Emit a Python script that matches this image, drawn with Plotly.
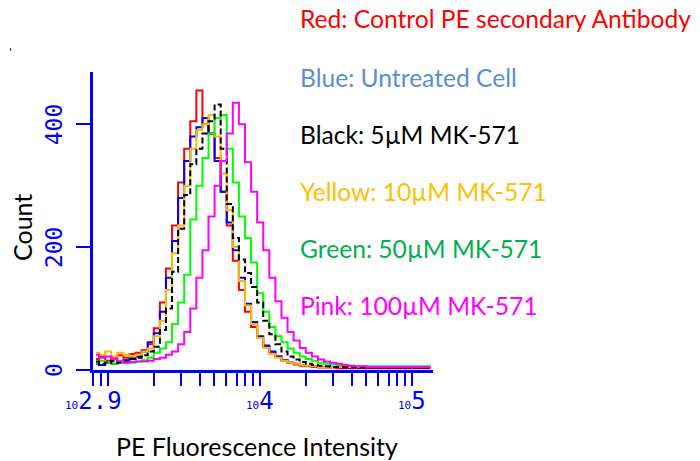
import plotly.graph_objects as go

# Histogram bin centres (log10 of PE fluorescence)
bin_log10 = [2.92, 2.96, 3.00, 3.04, 3.08, 3.12, 3.16, 3.20, 3.24, 3.28,
             3.32, 3.36, 3.40, 3.44, 3.48, 3.52, 3.56, 3.60, 3.64, 3.68,
             3.72, 3.76, 3.80, 3.84, 3.88, 3.92, 3.96, 4.00, 4.04, 4.08,
             4.12, 4.16, 4.20, 4.24, 4.28, 4.32, 4.36, 4.40, 4.44, 4.48,
             4.52, 4.56, 4.60, 4.64, 4.68, 4.72, 4.76, 4.80, 4.84, 4.88,
             4.92, 4.96, 5.00, 5.04, 5.08, 5.12]

red_control = [18, 22, 15, 20, 24, 20, 26, 28, 32, 42,
               68, 110, 165, 235, 305, 360, 405, 455, 400, 385,
               345, 290, 235, 178, 130, 95, 70, 52, 38, 28,
               22, 16, 12, 9, 7, 6, 5, 4, 4, 4,
               3, 3, 3, 3, 3, 3, 3, 3, 3, 3, 3, 3, 3, 3, 3, 3]
blue_untreated = [10, 8, 12, 10, 14, 16, 20, 22, 30, 45,
                  60, 95, 150, 210, 280, 340, 380, 395, 410, 385,
                  340, 290, 240, 195, 150, 108, 78, 55, 40, 30,
                  22, 16, 12, 10, 8, 7, 6, 5, 5, 5,
                  5, 4, 4, 4, 4, 4, 4, 4, 4, 4, 4, 4, 4, 4, 4, 4]
yellow_10uM = [28, 25, 30, 22, 28, 25, 22, 25, 30, 35,
               55, 80, 130, 190, 235, 300, 360, 390, 400, 415,
               380, 320, 260, 200, 145, 105, 75, 52, 36, 26,
               20, 15, 12, 10, 8, 7, 6, 5, 5, 5,
               5, 5, 5, 5, 5, 5, 5, 5, 5, 5, 5, 5, 5, 5, 6, 6]
black_5uM = [14, 10, 12, 15, 12, 15, 18, 20, 24, 30,
             38, 65, 100, 160, 230, 285, 335, 360, 385, 405,
             432, 360, 270, 215, 180, 158, 135, 110, 80, 58,
             42, 30, 22, 17, 13, 10, 8, 7, 6, 5,
             5, 5, 5, 5, 4, 4, 4, 4, 4, 4, 4, 4, 4, 4, 4, 4]
green_50uM = [12, 15, 12, 10, 14, 12, 12, 14, 16, 20,
              28, 35, 45, 75, 110, 155, 245, 300, 345, 385,
              410, 415, 360, 305, 250, 215, 175, 125, 95, 70,
              55, 45, 35, 28, 22, 18, 15, 12, 10, 9,
              8, 7, 7, 6, 6, 6, 6, 6, 6, 6, 6, 6, 6, 6, 6, 6]
pink_100uM = [25, 20, 22, 18, 15, 12, 13, 14, 14, 15,
              18, 20, 25, 30, 42, 62, 100, 150, 195, 250,
              300, 340, 385, 435, 400, 338, 290, 240, 195, 150,
              112, 85, 62, 48, 36, 28, 22, 17, 14, 12,
              10, 8, 7, 6, 6, 5, 5, 5, 5, 5, 5, 5, 5, 5, 5, 5]

legend_labels = ["Red: Control PE secondary Antibody",
                 "Blue: Untreated Cell",
                 "Black: 5µM MK-571",
                 "Yellow: 10µM MK-571",
                 "Green: 50µM MK-571",
                 "Pink: 100µM MK-571"]
legend_colors = ["#FF0000", "#5B8ED6", "#000000", "#FFC000", "#00B050", "#FF00FF"]

y_tick_vals = [0, 200, 400]
x_tick_vals = [10 ** 2.9, 900, 1000, 2000, 3000, 4000, 5000, 6000, 7000, 8000, 9000,
               10000, 20000, 30000, 40000, 50000, 60000, 70000, 80000, 90000, 100000]
x_label_exps = [2.9, 4, 5]
x_label_texts = ["2.9", "4", "5"]

AX = "#0000FF"
xs = [10 ** v for v in bin_log10]

fig = go.Figure()
series = [
    (red_control, "#FF0000", "solid"),
    (blue_untreated, "#0000FF", "solid"),
    (yellow_10uM, "#FFB800", "solid"),
    (green_50uM, "#00FF00", "solid"),
    (black_5uM, "#000000", "6px,3px"),
    (pink_100uM, "#FF00FF", "solid"),
]
for vals, col, dash in series:
    fig.add_trace(go.Scatter(x=xs, y=vals, mode="lines",
                             line=dict(color=col, width=2, shape="hvh", dash=dash),
                             hoverinfo="skip"))

L, R, T, B = 93, 433, 72, 370
W, H = 700, 461


def px(x):
    return (x - L) / (R - L)


def py(y):
    return (B - y) / (B - T)


ann = []
# y tick labels
for v in y_tick_vals:
    ann.append(dict(xref="paper", yref="y", x=px(54), y=v, text=str(v), showarrow=False,
                    textangle=-90, xanchor="center", yanchor="middle",
                    font=dict(family="DejaVu Sans Mono", size=23, color=AX)))
# x tick labels
for e, t in zip(x_label_exps, x_label_texts):
    ann.append(dict(xref="x", yref="paper", x=e, y=py(401), showarrow=False,
                    text="<span style='font-size:11px'>10</span>" + t,
                    xanchor="center", yanchor="middle",
                    font=dict(family="DejaVu Sans Mono", size=24, color=AX)))
# axis titles
ann.append(dict(xref="paper", yref="paper", x=px(22), y=py(228), text="Count", showarrow=False,
                textangle=-90, xanchor="center", yanchor="middle",
                font=dict(family="Lato", size=25, color="#000000")))
ann.append(dict(xref="paper", yref="paper", x=px(257), y=py(446), text="PE Fluorescence Intensity",
                showarrow=False, xanchor="center", yanchor="middle",
                font=dict(family="Lato", size=25, color="#000000")))
# legend text
legend_y = [19, 77, 134, 191, 248, 305]
for lab, col, yy in zip(legend_labels, legend_colors, legend_y):
    ann.append(dict(xref="paper", yref="paper", x=px(298), y=py(yy), text=lab, showarrow=False,
                    xanchor="left", yanchor="middle",
                    font=dict(family="Lato", size=24.6, color=col)))
# stray mark
ann.append(dict(xref="paper", yref="paper", x=px(10), y=py(53), text="'", showarrow=False,
                xanchor="center", yanchor="middle",
                font=dict(family="DejaVu Sans", size=11, color="#000000")))

fig.update_layout(
    width=W, height=H,
    margin=dict(l=L, r=W - R, t=T, b=H - B, pad=0),
    paper_bgcolor="white", plot_bgcolor="white",
    showlegend=False,
    annotations=ann,
    xaxis=dict(type="log", range=[2.9, 5.137], showline=True, linecolor=AX, linewidth=3,
               ticks="outside", tickvals=x_tick_vals, ticklen=13, tickwidth=2, tickcolor=AX,
               showticklabels=False, showgrid=False, zeroline=False),
    yaxis=dict(range=[0, 485], showline=True, linecolor=AX, linewidth=3,
               ticks="outside", tickvals=y_tick_vals, ticklen=14, tickwidth=2, tickcolor=AX,
               showticklabels=False, showgrid=False, zeroline=False),
)

fig.write_html("out.html")
